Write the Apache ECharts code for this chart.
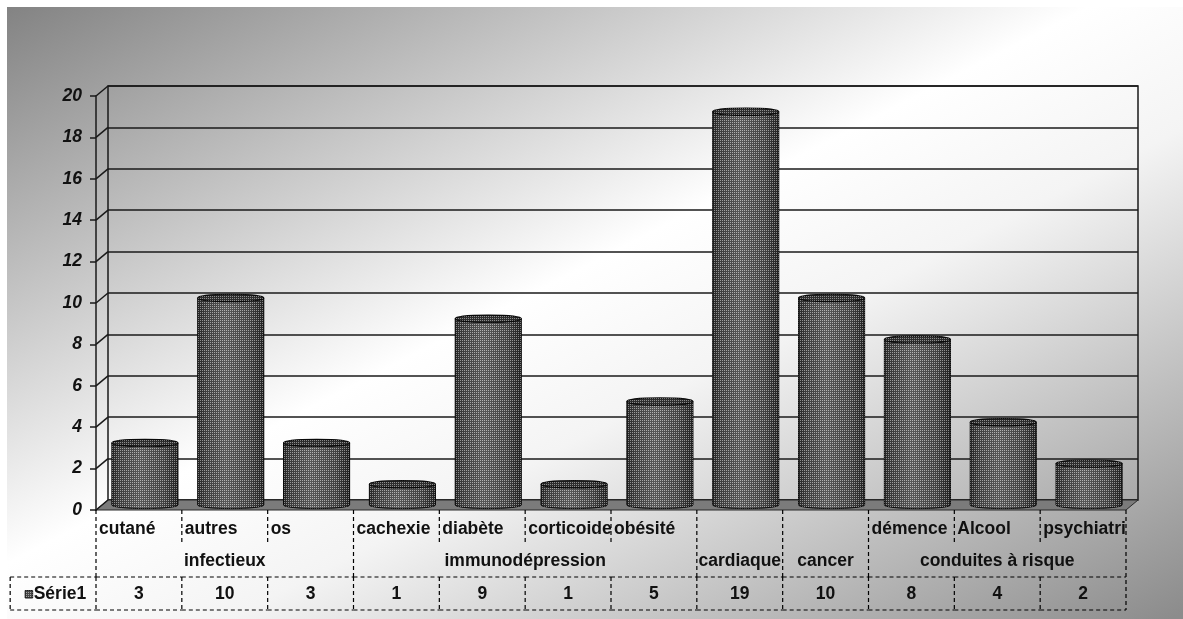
<!DOCTYPE html>
<html>
<head>
<meta charset="utf-8">
<script src="https://cdn.jsdelivr.net/npm/echarts@6/dist/echarts.min.js"></script>
<style>
  html, body { margin: 0; padding: 0; background: #ffffff; }
  #chart { width: 1183px; height: 619px; }
</style>
</head>
<body>
<div id="chart"></div>
<script>
// Sub-categories (first label row), their groups (second label row) and the values
const subLabels = ['cutané', 'autres', 'os', 'cachexie', 'diabète', 'corticoide', 'obésité', '', '', 'démence', 'Alcool', 'psychiatrie'];
const groupLabels = ['infectieux', 'immunodépression', 'cardiaque', 'cancer', 'conduites à risque'];
const groupSizes = [3, 4, 1, 1, 3];
const seriesName = 'Série1';
const values = [3, 10, 3, 1, 9, 1, 5, 19, 10, 8, 4, 2];
const yTicks = [0, 2, 4, 6, 8, 10, 12, 14, 16, 18, 20];

// Which group each category belongs to, and where each group starts
const groupOf = [];
const groupStart = {};
groupSizes.forEach((n, g) => {
  groupStart[groupOf.length] = g;
  for (let k = 0; k < n; k++) groupOf.push(g);
});
const categoryKeys = subLabels.map((s, i) => s || groupLabels[groupOf[i]]);

// Perspective offset between the front edge and the back wall
const DX = 12, DY = 10;
const FONT = "'Liberation Sans', Arial, sans-serif";
const FS = 17.5;
const INK = '#111111';
const LINE = '#1a1a1a';

// Fine dot texture laid over the cylinders
function dotPattern() {
  const c = document.createElement('canvas');
  c.width = 2; c.height = 2;
  const g = c.getContext('2d');
  g.fillStyle = 'rgba(0,0,0,0.34)';
  g.fillRect(0, 0, 2, 2);
  g.clearRect(0, 0, 1, 1);
  g.fillStyle = 'rgba(255,255,255,0.40)';
  g.fillRect(0, 0, 1, 1);
  return { image: c, repeat: 'repeat' };
}
const dots = dotPattern();

const front = { left: 96, right: 57, top: 96, bottom: 109 };
const back = { left: front.left + DX, right: front.right - DX, top: front.top - DY, bottom: front.bottom + DY };

const chart = echarts.init(document.getElementById('chart'), null, { renderer: 'canvas' });

const yMin = yTicks[0], yMax = yTicks[yTicks.length - 1], yStep = yTicks[1] - yTicks[0];

const option = {
  animation: false,
  backgroundColor: '#ffffff',
  graphic: [{
    type: 'rect', z: -100, silent: true,
    shape: { x: 7, y: 7, width: 1176, height: 612 },
    style: {
      fill: new echarts.graphic.LinearGradient(7, 7, 499, 964, [
        { offset: 0, color: '#838383' },
        { offset: 0.46, color: '#ffffff' },
        { offset: 0.6, color: '#f4f4f4' },
        { offset: 1, color: '#8c8c8c' }
      ], true)
    }
  }],
  grid: [
    Object.assign({ containLabel: false }, front),
    Object.assign({ containLabel: false, show: true, borderColor: LINE, borderWidth: 1.5, backgroundColor: 'transparent' }, back)
  ],
  xAxis: [
    { gridIndex: 0, type: 'category', data: categoryKeys, show: false },
    { gridIndex: 1, type: 'category', data: categoryKeys, show: false }
  ],
  yAxis: [
    {
      gridIndex: 0, type: 'value', min: yMin, max: yMax, interval: yStep,
      axisLine: { show: true, lineStyle: { color: LINE, width: 1.5 } },
      axisTick: { show: true, length: 6, lineStyle: { color: LINE, width: 1.5 } },
      axisLabel: { fontFamily: FONT, fontSize: FS, fontWeight: 'bold', fontStyle: 'italic', color: INK, margin: 14 },
      splitLine: { show: false }
    },
    {
      gridIndex: 1, type: 'value', min: yMin, max: yMax, interval: yStep,
      axisLine: { show: false }, axisTick: { show: false }, axisLabel: { show: false },
      splitLine: { show: true, lineStyle: { color: LINE, width: 1.5 } }
    }
  ],
  series: [
    // Floor slab and the short diagonals linking front ticks to the back gridlines
    {
      type: 'custom', xAxisIndex: 0, yAxisIndex: 0, z: 1, silent: true,
      data: yTicks.map(v => [0, v]),
      renderItem(params, api) {
        const cs = params.coordSys;
        const y = api.coord([0, api.value(1)])[1];
        const children = [{
          type: 'line',
          shape: { x1: cs.x, y1: y, x2: cs.x + DX, y2: y - DY },
          style: { stroke: LINE, lineWidth: 1.5 }
        }];
        if (api.value(1) === yMin) {
          children.unshift({
            type: 'polygon',
            shape: { points: [[cs.x, y], [cs.x + cs.width, y], [cs.x + cs.width + DX, y - DY], [cs.x + DX, y - DY]] },
            style: { fill: '#7b7b7b', stroke: '#2a2a2a', lineWidth: 1 }
          });
        }
        return { type: 'group', children };
      }
    },
    // Cylinders
    {
      type: 'custom', name: seriesName, xAxisIndex: 0, yAxisIndex: 0, z: 3, silent: true,
      data: values.map((v, i) => [i, v]),
      renderItem(params, api) {
        const i = api.value(0), v = api.value(1);
        const top = api.coord([i, v]);
        const base = api.coord([i, 0]);
        const slot = api.size([1, 0])[0];
        const rx = slot * 0.385, ry = 3.6;
        const cx = top[0] + DX / 2, ty = top[1] - DY / 2, by = base[1] - DY / 2;
        const body = `M${cx - rx} ${ty} L${cx - rx} ${by} A${rx} ${ry} 0 0 0 ${cx + rx} ${by} L${cx + rx} ${ty} Z`;
        const cap = `M${cx - rx} ${ty} A${rx} ${ry} 0 1 0 ${cx + rx} ${ty} A${rx} ${ry} 0 1 0 ${cx - rx} ${ty} Z`;
        const shade = {
          type: 'linear', x: 0, y: 0, x2: 1, y2: 0,
          colorStops: [
            { offset: 0, color: '#333333' },
            { offset: 0.12, color: '#5a5a5a' },
            { offset: 0.42, color: '#858585' },
            { offset: 0.78, color: '#646464' },
            { offset: 1, color: '#2e2e2e' }
          ]
        };
        return {
          type: 'group',
          children: [
            { type: 'path', shape: { pathData: body }, style: { fill: shade, stroke: '#0a0a0a', lineWidth: 1 } },
            { type: 'path', shape: { pathData: body }, style: { fill: dots } },
            { type: 'path', shape: { pathData: cap }, style: { fill: '#444444', stroke: '#0a0a0a', lineWidth: 1.2 } },
            { type: 'path', shape: { pathData: cap }, style: { fill: dots } }
          ]
        };
      }
    },
    // Two-level category labels and the data table underneath
    {
      type: 'custom', xAxisIndex: 0, yAxisIndex: 0, z: 4, silent: true,
      data: values.map((v, i) => [i, v]),
      renderItem(params, api) {
        const cs = params.coordSys;
        const i = api.value(0), v = api.value(1);
        const base = api.coord([i, 0]);
        const slot = api.size([1, 0])[0];
        const x0 = base[0] - slot / 2, x1 = x0 + slot;
        const y0 = base[1];
        const tableRight = cs.x + cs.width;
        const dash = { stroke: '#000000', lineWidth: 1.2, lineDash: [4, 3] };
        const txt = { fontFamily: FONT, fontSize: FS, fontWeight: 'bold', fill: INK, verticalAlign: 'middle' };
        const line = (a, b, c, d) => ({ type: 'line', shape: { x1: a, y1: b, x2: c, y2: d }, style: dash });
        const children = [];
        const starts = groupStart[i] !== undefined;

        // separators between label cells
        children.push(line(x0, y0, x0, starts ? y0 + 67 : y0 + 35));
        if (i === values.length - 1) children.push(line(x1, y0, x1, y0 + 100));

        // first row: sub-category, cut off at the table's right edge
        if (subLabels[i]) {
          children.push({
            type: 'text',
            style: Object.assign({}, txt, {
              text: subLabels[i], x: x0 + 3, y: y0 + 19, align: 'left',
              width: tableRight - x0 + 2, overflow: 'truncate', ellipsis: ''
            })
          });
        }
        // second row: group name centred over its categories
        if (starts) {
          const g = groupStart[i];
          children.push({
            type: 'text',
            style: Object.assign({}, txt, { text: groupLabels[g], x: x0 + slot * groupSizes[g] / 2, y: y0 + 51, align: 'center' })
          });
        }
        // data table cell
        children.push(line(x0, y0 + 67, x1, y0 + 67));
        children.push(line(x0, y0 + 100, x1, y0 + 100));
        children.push(line(x0, y0 + 67, x0, y0 + 100));
        children.push({
          type: 'text',
          style: Object.assign({}, txt, { text: String(v), x: base[0], y: y0 + 84, align: 'center' })
        });
        // row header with the series key
        if (i === 0) {
          const hx = x0 - slot;
          children.push(line(hx, y0 + 67, x0, y0 + 67));
          children.push(line(hx, y0 + 100, x0, y0 + 100));
          children.push(line(hx, y0 + 67, hx, y0 + 100));
          children.push({ type: 'rect', shape: { x: hx + 15, y: y0 + 80.5, width: 7.5, height: 7.5 }, style: { fill: '#6a6a6a', stroke: '#1a1a1a', lineWidth: 1 } });
          children.push({ type: 'rect', shape: { x: hx + 15, y: y0 + 80.5, width: 7.5, height: 7.5 }, style: { fill: dots } });
          children.push({
            type: 'text',
            style: Object.assign({}, txt, { text: seriesName, x: hx + 23.5, y: y0 + 84, align: 'left' })
          });
        }
        return { type: 'group', children };
      }
    }
  ]
};

chart.setOption(option);
</script>
</body>
</html>
